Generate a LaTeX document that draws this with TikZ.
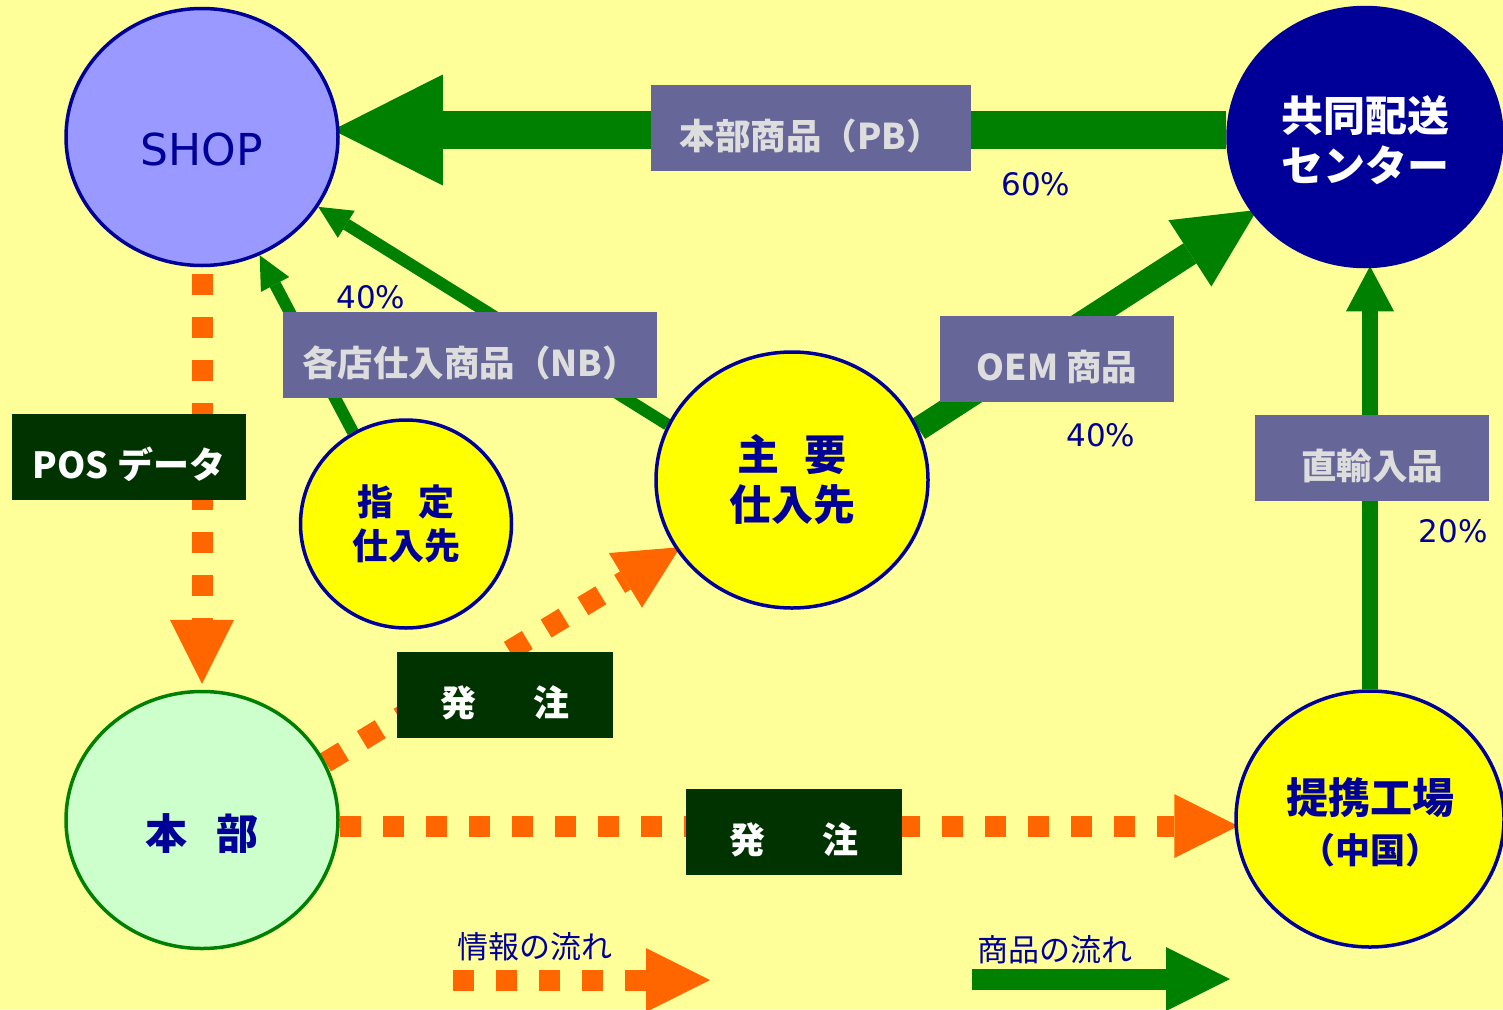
\documentclass[tikz,border=0pt]{standalone}
\usepackage{fontspec}
\setmainfont{Noto Sans CJK JP}
\newfontfamily\latinf{DejaVu Sans}
\usetikzlibrary{shapes.geometric,arrows.meta}
\pgfdeclarelayer{back}
\pgfdeclarelayer{bg}
\pgfsetlayers{back,bg,main}
\definecolor{bgc}{HTML}{FFFF99}
\definecolor{shopc}{HTML}{9999FF}
\definecolor{navyc}{HTML}{000099}
\definecolor{yel}{HTML}{FFFF00}
\definecolor{honbuc}{HTML}{CCFFCC}
\definecolor{greenc}{HTML}{008000}
\definecolor{orangec}{HTML}{FF6600}
\definecolor{boxc}{HTML}{666699}
\definecolor{lgray}{HTML}{DDDDDD}
\definecolor{darkc}{HTML}{003300}
\tikzset{
  circ/.style={ellipse, line width=3.5pt, draw=navyc, inner sep=0pt, align=center, text=navyc,
    font=\fontsize{42}{50}\selectfont\bfseries},
  lbl/.style={fill=boxc, text=lgray, minimum height=86pt, inner sep=0pt,
    text height=46pt, text depth=3pt,
    font=\fontsize{35.5}{40}\selectfont\bfseries},
  dark/.style={fill=darkc, text=white, minimum height=86pt, minimum width=216pt, inner sep=0pt,
    text height=45pt, text depth=3pt,
    font=\fontsize{36}{40}\selectfont\bfseries},
  pct/.style={text=navyc, font=\latinf\fontsize{31}{36}\selectfont, inner sep=0pt},
  legt/.style={text=navyc, font=\fontsize{31}{36}\selectfont, inner sep=0pt},
  gthin/.style={draw=greenc, line width=12pt, -{Triangle[length=33pt,width=32pt,line width=0pt]}},
  oarrow/.style={draw=orangec, line width=21pt, dash pattern=on 21pt off 22pt,
    -{Triangle[length=64pt,width=64pt,line width=0pt]}},
}
\begin{document}
\begin{tikzpicture}[x=1pt,y=-1pt]
\begin{pgfonlayer}{back}
\fill[bgc] (0,0) rectangle (1503,1009);
\end{pgfonlayer}
\useasboundingbox (0,0) rectangle (1503,1009);

% circles
\node[circ, fill=shopc, minimum width=272pt, minimum height=257pt,
      font=\latinf\fontsize{44}{50}\selectfont, text height=57pt, text depth=0pt] (shop) at (202,137) {SHOP};
\node[circ, fill=navyc, text=white, minimum width=274pt, minimum height=259pt,
      text height=88pt, text depth=0pt] (kyodo) at (1365,137) {共同配送\\センター};
\node[circ, fill=yel, minimum width=211pt, minimum height=208pt,
      font=\fontsize{36}{44}\selectfont\bfseries] (shitei) at (406,524) {指\hspace{0.7em}定\\仕入先};
\node[circ, fill=yel, minimum width=272pt, minimum height=256pt] (shuyo) at (792,480) {主\hspace{0.6em}要\\仕入先};
\node[circ, fill=honbuc, draw=greenc, minimum width=272pt, minimum height=257pt,
      text height=61pt, text depth=3pt] (honbu) at (202,820) {本\hspace{0.7em}部};
\node[circ, fill=yel, minimum width=268pt, minimum height=256pt,
      text height=88pt, text depth=0pt] (teikei) at (1370,819)
      {提携工場\\{\fontsize{35}{44}\selectfont （中国）}};

% label boxes
\node[lbl, minimum width=320pt] (pb) at (811,128) {本部商品（PB）};
\node[lbl, minimum width=374pt] (nb) at (470,355) {各店仕入商品（NB）};
\node[lbl, minimum width=234pt] (oem) at (1057,359) {OEM 商品};
\node[lbl, minimum width=234pt] (choku) at (1372,458) {直輸入品};
\node[dark, minimum width=234pt] (pos) at (129,457) {POS データ};
\node[dark] (hat1) at (505,695) {発\hspace{1.6em}注};
\node[dark] (hat2) at (794,832) {発\hspace{1.6em}注};

% percentages
\node[pct] (p60) at (1036,184) {60\%};
\node[pct] (p40a) at (371,297) {40\%};
\node[pct] (p40b) at (1101,435) {40\%};
\node[pct] (p20) at (1453,531) {20\%};

% legend
\node[legt] (linfo) at (535,947) {情報の流れ};
\node[legt] (lgoods) at (1055,950) {商品の流れ};
\coordinate (li1) at (453,980);
\coordinate (li2) at (707,980);
\coordinate (lg1) at (972,979);
\coordinate (lg2) at (1227,979);

\begin{pgfonlayer}{bg}
% goods flow
\draw[draw=greenc, line width=38pt, shorten >=-7pt,
      -{Triangle[length=110pt,width=111pt,line width=0pt]}]
      ([yshift=7pt]kyodo.west) -- ([yshift=7pt]shop.east);
\draw[gthin] (shuyo.156) -- (shop.-31);
\draw[gthin] (shitei.120) -- (shop.-64);
\draw[draw=greenc, line width=24pt, shorten >=-6pt,
      -{Triangle[length=80pt,width=79pt,line width=0pt]}]
      (shuyo.22) -- (kyodo.-146);
\draw[draw=greenc, line width=16pt, shorten >=-2pt,
      -{Triangle[length=45pt,width=48pt,line width=0pt]}]
      (teikei.north) -- (teikei.north |- kyodo.south);
% information flow
\draw[oarrow, shorten <=7pt, shorten >=6pt] (shop.south) -- (honbu.north);
\draw[oarrow, shorten >=-5pt] (honbu.25) -- (shuyo.211);
\draw[oarrow, shorten >=-4pt] ([yshift=-6pt]honbu.east) -- ([yshift=-7pt]teikei.west);
% legend arrows
\draw[oarrow, shorten >=-3pt] (li1) -- (li2);
\draw[draw=greenc, line width=21pt, shorten >=-3pt,
      -{Triangle[length=64pt,width=64pt,line width=0pt]}] (lg1) -- (lg2);
\end{pgfonlayer}
\end{tikzpicture}
\end{document}
